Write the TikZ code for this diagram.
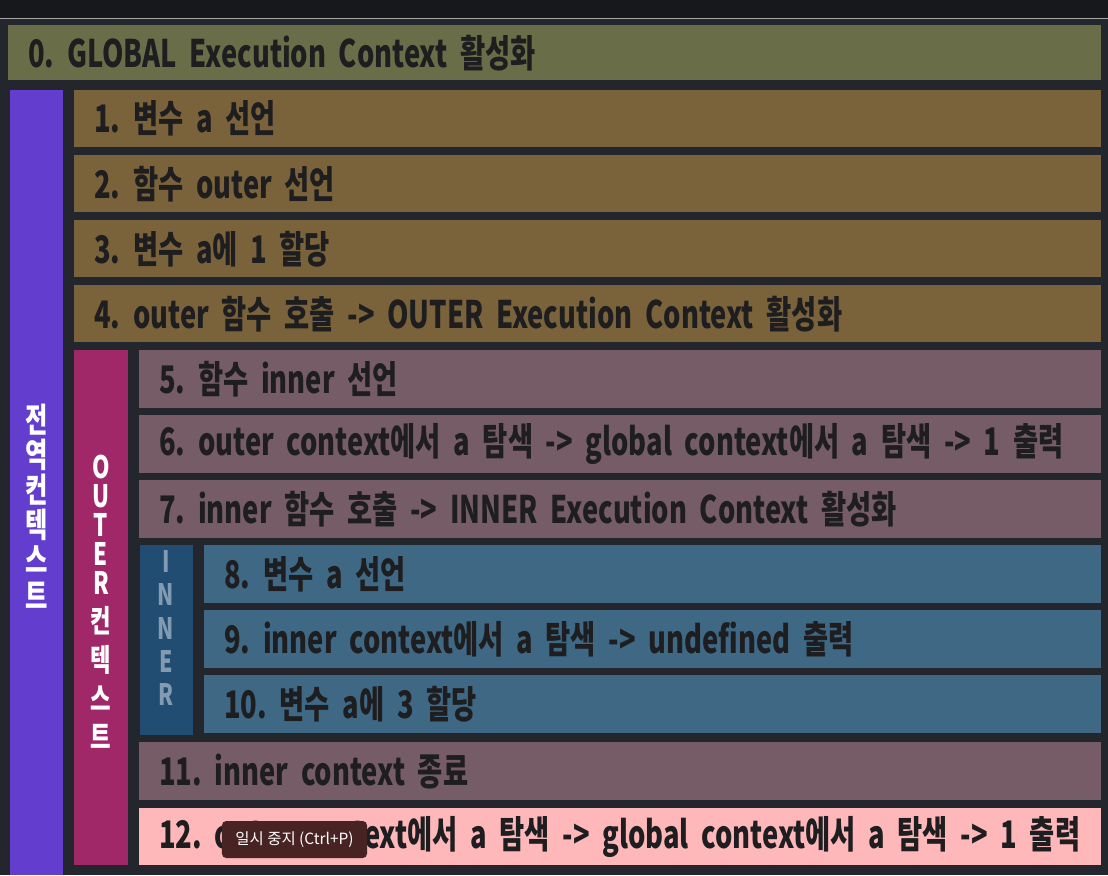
\documentclass[tikz,border=0pt]{standalone}
\usepackage{fontspec}
\setmainfont{Noto Sans CJK KR}[FakeStretch=0.72, WordSpace=0.7]
\newfontfamily\tipfont{Noto Sans CJK KR}
\usetikzlibrary{positioning}
\frenchspacing

\definecolor{bgdark}{RGB}{35,39,45}
\definecolor{topbar}{RGB}{22,24,27}
\definecolor{olivebox}{RGB}{106,110,72}
\definecolor{globalbar}{RGB}{99,62,206}
\definecolor{brownbox}{RGB}{122,99,58}
\definecolor{outerbar}{RGB}{160,40,105}
\definecolor{mauvebox}{RGB}{117,92,102}
\definecolor{innerbar}{RGB}{33,77,115}
\definecolor{steelbox}{RGB}{62,104,132}
\definecolor{pinkbox}{RGB}{255,184,186}
\definecolor{rowtext}{RGB}{30,30,32}
\definecolor{innertext}{RGB}{130,155,178}
\definecolor{tipbox}{RGB}{72,35,35}

\begin{document}
\begin{tikzpicture}[x=0.025cm,y=-0.025cm,
    row/.style={anchor=north west, inner xsep=0.5cm, inner ysep=0pt, align=left,
        text=rowtext, font=\fontsize{27}{29}\selectfont\bfseries},
    toprow/.style={row, text width=26.3cm, minimum height=1.375cm},
    globalrow/.style={row, fill=brownbox, text width=24.65cm, minimum height=1.425cm},
    outerrow/.style={row, fill=mauvebox, text width=23.025cm, minimum height=1.45cm},
    innerrow/.style={row, fill=steelbox, text width=21.4cm, minimum height=1.45cm},
    sidelabel/.style={align=center, inner sep=0pt, font=\fontsize{22}{20.5}\selectfont\bfseries}]
    \useasboundingbox (0,0) rectangle (1108,875);

    % Background
    \fill[bgdark] (0,0) rectangle (1108,875);
    \fill[topbar] (0,0) rectangle (1108,18);
    \draw[gray!70, line width=1pt] (0,18.5) -- (1108,18.5);

    % Context bars
    \fill[globalbar] (10,90) rectangle (63,875);
    \fill[outerbar] (74,350) rectangle (128,865);
    \fill[innerbar] (140,545) rectangle (193,735);

    % Step 0
    \node[toprow, fill=olivebox] (s0) at (8,25) {0. GLOBAL Execution Context 활성화};

    % Global context steps
    \foreach \n/\y/\txt in {1/90/1. 변수 a 선언,
                           2/155/2. 함수 outer 선언,
                           3/220/3. 변수 a에 1 할당,
                           4/285/4. outer 함수 호출 -> OUTER Execution Context 활성화} {
        \node[globalrow] (s\n) at (74,\y) {\txt};
    }

    % Outer context steps
    \foreach \n/\y/\txt in {5/350/5. 함수 inner 선언,
                           6/415/6. outer context에서 a 탐색 -> global context에서 a 탐색 -> 1 출력,
                           7/480/7. inner 함수 호출 -> INNER Execution Context 활성화,
                           11/742/11. inner context 종료} {
        \node[outerrow] (s\n) at (139,\y) {\txt};
    }
    \node[outerrow, fill=pinkbox, minimum height=1.425cm] (s12) at (139,808)
        {12. outer context에서 a 탐색 -> global context에서 a 탐색 -> 1 출력};

    % Inner context steps
    \foreach \n/\y/\txt in {8/545/8. 변수 a 선언,
                           9/610/9. inner context에서 a 탐색 -> undefined 출력,
                           10/675/10. 변수 a에 3 할당} {
        \node[innerrow] (s\n) at (204,\y) {\txt};
    }

    % Bar labels
    \node[sidelabel, text=white, font=\fontsize{24}{25}\selectfont\bfseries] (globallabel) at (37,506)
        {전\\역\\컨\\텍\\스\\트};
    \node[sidelabel, text=white] (outerlabel) at (101,602)
        {O\\U\\T\\E\\R\\[7pt]컨\\[7pt]텍\\[7pt]스\\[7pt]트};
    \node[sidelabel, text=innertext, font=\fontsize{21}{23.5}\selectfont\bfseries] (innerlabel) at (166,628)
        {I\\N\\N\\E\\R};

    % Player tooltip
    \node[fill=tipbox, rounded corners=3pt, text=white, minimum width=3.625cm,
        minimum height=0.925cm, inner sep=0pt, font=\tipfont\fontsize{11}{13}\selectfont]
        (pausetip) at (294.5,839.5) {일시 중지 (Ctrl+P)};
\end{tikzpicture}
\end{document}
